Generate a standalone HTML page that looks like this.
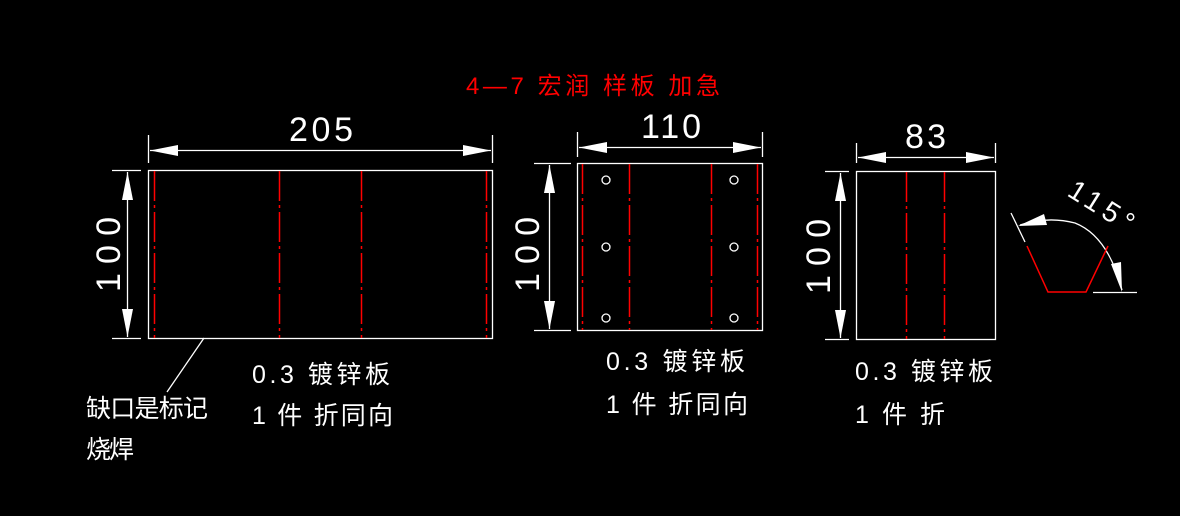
<!DOCTYPE html>
<html><head><meta charset="utf-8"><style>
html,body{margin:0;padding:0;background:#000;width:1180px;height:516px;overflow:hidden}
svg{display:block}
text{font-family:"Liberation Sans","Noto Sans CJK SC",sans-serif;fill:#fff}
</style></head><body>
<svg width="1180" height="516" viewBox="0 0 1180 516">
<g stroke="#fff" stroke-width="1.3" fill="none">
<!-- left -->
<rect x="148.5" y="170.5" width="344" height="168"/>
<line x1="148.5" y1="135" x2="148.5" y2="163"/><line x1="492.5" y1="135" x2="492.5" y2="163"/>
<line x1="150" y1="150.5" x2="491" y2="150.5"/>
<line x1="112" y1="170.5" x2="141" y2="170.5"/><line x1="112" y1="338.5" x2="141" y2="338.5"/>
<line x1="127.5" y1="172" x2="127.5" y2="337"/>
<line x1="204" y1="338" x2="167" y2="392"/>
<!-- middle -->
<rect x="577.5" y="163.5" width="185" height="167"/>
<line x1="577.5" y1="132" x2="577.5" y2="157"/><line x1="762.5" y1="132" x2="762.5" y2="157"/>
<line x1="579" y1="147.5" x2="761" y2="147.5"/>
<line x1="534" y1="163.5" x2="571" y2="163.5"/><line x1="534" y1="330.5" x2="571" y2="330.5"/>
<line x1="549.5" y1="165" x2="549.5" y2="329"/>
<circle cx="606" cy="180" r="4"/><circle cx="734" cy="180" r="4"/>
<circle cx="606" cy="247" r="4"/><circle cx="734" cy="247" r="4"/>
<circle cx="606" cy="318" r="4"/><circle cx="734" cy="318" r="4"/>
<!-- right -->
<rect x="856.5" y="171.5" width="139" height="168"/>
<line x1="856.5" y1="143" x2="856.5" y2="163"/><line x1="995.5" y1="143" x2="995.5" y2="163"/>
<line x1="858" y1="157.5" x2="994" y2="157.5"/>
<line x1="825" y1="171.5" x2="849" y2="171.5"/><line x1="825" y1="339.5" x2="849" y2="339.5"/>
<line x1="840.5" y1="173" x2="840.5" y2="338"/>
<!-- angle -->
<line x1="1011" y1="213" x2="1025" y2="242"/>
<line x1="1093" y1="292.5" x2="1137" y2="292.5"/>
<path d="M1020 225 Q1048 216 1075 223 Q1108 236 1122 290"/>
</g>
<g fill="#fff">
<!-- horizontal arrows -->
<polygon points="150,150.5 178,145 178,156"/><polygon points="491,150.5 463,145 463,156"/>
<polygon points="579,147.5 607,142 607,153"/><polygon points="761,147.5 733,142 733,153"/>
<polygon points="858,157.5 886,152 886,163"/><polygon points="994,157.5 966,152 966,163"/>
<!-- vertical arrows -->
<polygon points="127.5,172 122,200 133,200"/><polygon points="127.5,337 122,309 133,309"/>
<polygon points="549.5,165 544,193 555,193"/><polygon points="549.5,329 544,301 555,301"/>
<polygon points="840.5,173 835,201 846,201"/><polygon points="840.5,338 835,310 846,310"/>
<!-- angle arrows -->
<polygon points="1018,226 1044,214 1047,225"/>
<polygon points="1122,292 1111,264 1121,262"/>
</g>
<g stroke="#f00" stroke-width="1.5" fill="none">
<g stroke-dasharray="30 4 3 4">
<line x1="154.5" y1="171" x2="154.5" y2="338"/><line x1="279.5" y1="171" x2="279.5" y2="338"/>
<line x1="361.5" y1="171" x2="361.5" y2="338"/><line x1="486.5" y1="171" x2="486.5" y2="338"/>
<line x1="582.5" y1="164" x2="582.5" y2="330"/><line x1="629.5" y1="164" x2="629.5" y2="330"/>
<line x1="711.5" y1="164" x2="711.5" y2="330"/><line x1="757.5" y1="164" x2="757.5" y2="330"/>
<line x1="906.5" y1="172" x2="906.5" y2="339"/><line x1="944.5" y1="172" x2="944.5" y2="339"/>
</g>
<polyline points="1027,246 1048,292 1086,292 1108,246"/>
</g>
<text x="466" y="94" font-size="24" style="fill:#f00" textLength="254" lengthAdjust="spacing">4—7 宏润 样板 加急</text>
<text x="289" y="141" font-size="34" textLength="64" lengthAdjust="spacing">205</text>
<text x="641" y="138" font-size="34" textLength="60" lengthAdjust="spacing">110</text>
<text x="905" y="148" font-size="34" textLength="41" lengthAdjust="spacing">83</text>
<text transform="translate(120,292) rotate(-90)" font-size="34" textLength="75" lengthAdjust="spacing">100</text>
<text transform="translate(539,292) rotate(-90)" font-size="34" textLength="75" lengthAdjust="spacing">100</text>
<text transform="translate(830,294) rotate(-90)" font-size="34" textLength="75" lengthAdjust="spacing">100</text>
<text transform="translate(1066,195) rotate(32)" font-size="28" textLength="72" lengthAdjust="spacing">115°</text>
<g font-size="25">
<text x="252" y="383" textLength="138" lengthAdjust="spacing">0.3 镀锌板</text>
<text x="252" y="424" textLength="141" lengthAdjust="spacing">1 件 折同向</text>
<text x="86" y="417" textLength="122" lengthAdjust="spacing">缺口是标记</text>
<text x="86" y="458" textLength="48" lengthAdjust="spacing">烧焊</text>
<text x="606" y="370" textLength="139" lengthAdjust="spacing">0.3 镀锌板</text>
<text x="606" y="413" textLength="142" lengthAdjust="spacing">1 件 折同向</text>
<text x="855" y="380" textLength="138" lengthAdjust="spacing">0.3 镀锌板</text>
<text x="855" y="423" textLength="90" lengthAdjust="spacing">1 件 折</text>
</g>
</svg>
</body></html>
